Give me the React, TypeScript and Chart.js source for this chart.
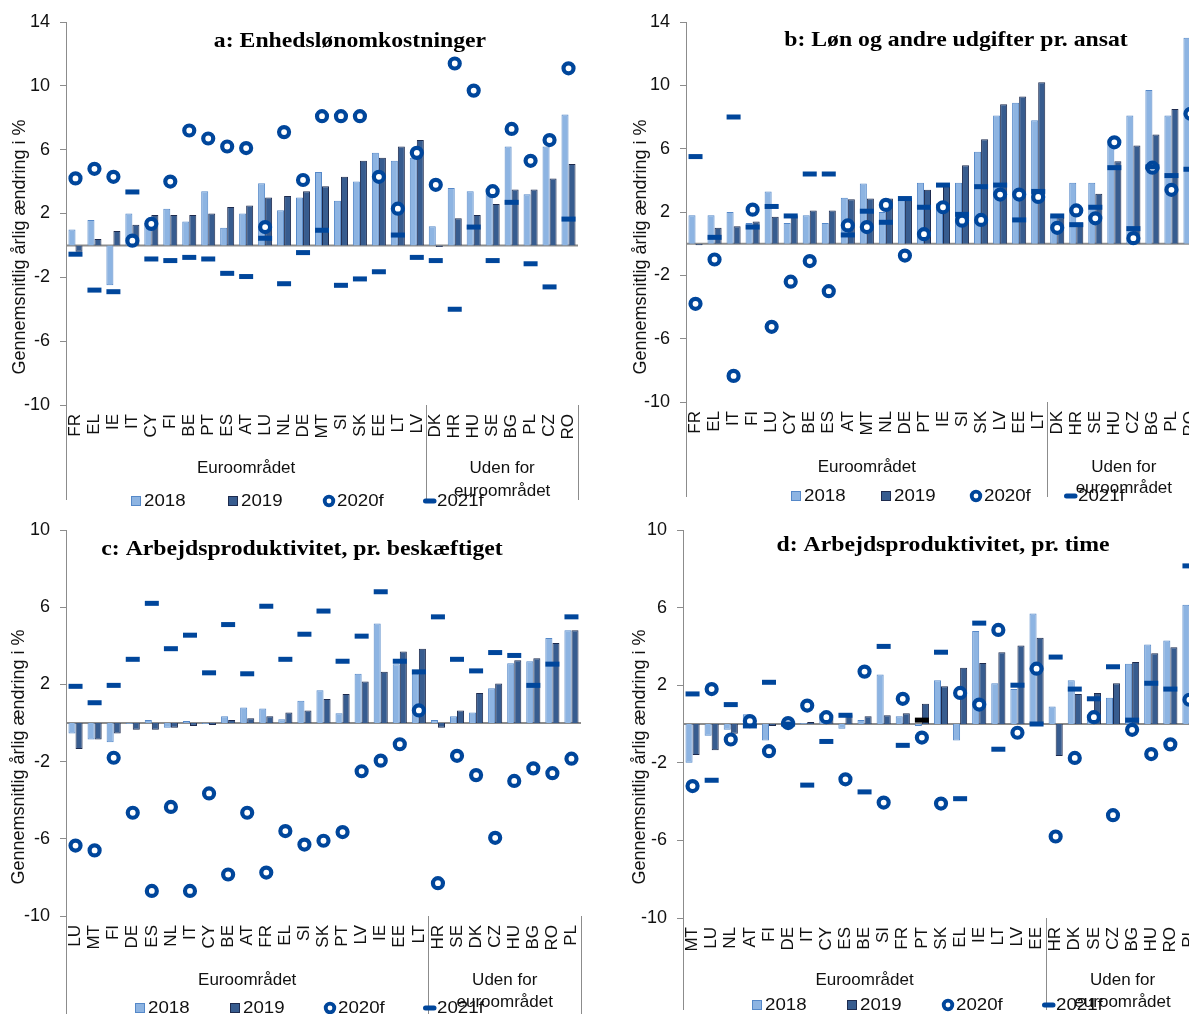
import React, { useEffect, useRef } from 'react';
import { Chart, registerables } from 'chart.js';

Chart.register(...registerables);
Chart.defaults.font.family = "'Liberation Sans', Arial, sans-serif";

// ---------- labels ----------
const seriesLabels = ['2018', '2019', '2020f', '2021f'];
const groupLabels = ['Euroområdet', 'Uden for', 'euroområdet'];
const yAxisTitle = 'Gennemsnitlig årlig ændring i %';
const panelTitles = [
  'a: Enhedslønomkostninger',
  'b: Løn og andre udgifter pr. ansat',
  'c: Arbejdsproduktivitet, pr. beskæftiget',
  'd: Arbejdsproduktivitet, pr. time',
];
const euroCount = 19;
const yTicksAB = { min: -10, max: 14, step: 4 };
const yTicksCD = { min: -10, max: 10, step: 4 };

// ---------- panel a: Enhedslønomkostninger ----------
const catsA = ['FR', 'EL', 'IE', 'IT', 'CY', 'FI', 'BE', 'PT', 'ES', 'AT', 'LU', 'NL', 'DE', 'MT', 'SI', 'SK', 'EE', 'LT', 'LV', 'DK', 'HR', 'HU', 'SE', 'BG', 'PL', 'CZ', 'RO'];
const a2018 = [1.0, 1.6, -2.5, 2.0, 1.4, 2.3, 1.5, 3.4, 1.1, 2.0, 3.9, 2.2, 3.0, 4.6, 2.8, 4.0, 5.8, 5.3, 5.5, 1.2, 3.6, 3.4, 3.5, 6.2, 3.2, 6.2, 8.2];
const a2019 = [-0.4, 0.4, 0.9, 1.3, 1.9, 1.9, 1.9, 2.0, 2.4, 2.5, 3.0, 3.1, 3.4, 3.7, 4.3, 5.3, 5.5, 6.2, 6.6, -0.1, 1.7, 1.9, 2.6, 3.5, 3.5, 4.2, 5.1];
const a2020 = [4.2, 4.8, 4.3, 0.3, 1.35, 4.0, 7.2, 6.7, 6.2, 6.1, 1.15, 7.1, 4.1, 8.1, 8.1, 8.1, 4.3, 2.3, 5.8, 3.8, 11.4, 9.7, 3.4, 7.3, 5.3, 6.6, 11.1];
const a2021 = [-0.55, -2.8, -2.9, 3.35, -0.85, -0.95, -0.75, -0.85, -1.75, -1.95, 0.45, -2.4, -0.45, 0.95, -2.5, -2.1, -1.65, 0.65, -0.75, -0.95, -4.0, 1.15, -0.95, 2.7, -1.15, -2.6, 1.65];

// ---------- panel b: Løn og andre udgifter pr. ansat ----------
const catsB = ['FR', 'EL', 'IT', 'FI', 'LU', 'CY', 'BE', 'ES', 'AT', 'MT', 'NL', 'DE', 'PT', 'IE', 'SI', 'SK', 'LV', 'EE', 'LT', 'DK', 'HR', 'SE', 'HU', 'CZ', 'BG', 'PL', 'RO'];
const b2018 = [1.8, 1.8, 2.0, 1.3, 3.3, 1.3, 1.8, 1.3, 2.9, 3.8, 2.0, 2.9, 3.85, 2.55, 3.85, 5.8, 8.1, 8.9, 7.8, 1.8, 3.85, 3.85, 6.5, 8.1, 9.7, 8.1, 13.0];
const b2019 = [-0.1, 1.0, 1.1, 1.4, 1.7, 1.8, 2.1, 2.1, 2.8, 2.85, 2.85, 2.9, 3.4, 3.6, 4.95, 6.6, 8.8, 9.3, 10.2, 1.65, 1.3, 3.15, 5.2, 6.2, 6.9, 8.5, 9.5];
const b2020 = [-3.8, -1.0, -8.35, 2.15, -5.25, -2.4, -1.1, -3.0, 1.15, 1.05, 2.45, -0.75, 0.6, 2.3, 1.45, 1.5, 3.1, 3.1, 2.95, 1.0, 2.1, 1.6, 6.4, 0.35, 4.8, 3.4, 8.2];
const b2021 = [5.5, 0.4, 8.0, 1.05, 2.35, 1.75, 4.4, 4.4, 0.55, 2.05, 1.35, 2.85, 2.3, 3.7, 1.85, 3.6, 3.7, 1.5, 3.3, 1.75, 1.2, 2.3, 4.8, 0.95, 4.85, 4.3, 4.7];

// ---------- panel c: Arbejdsproduktivitet, pr. beskæftiget ----------
const catsC = ['LU', 'MT', 'FI', 'DE', 'ES', 'NL', 'IT', 'CY', 'BE', 'AT', 'FR', 'EL', 'SI', 'SK', 'PT', 'LV', 'IE', 'EE', 'LT', 'HR', 'SE', 'DK', 'CZ', 'HU', 'BG', 'RO', 'PL'];
const c2018 = [-0.55, -0.85, -1.0, -0.05, 0.15, -0.25, 0.1, -0.05, 0.35, 0.8, 0.75, 0.2, 1.15, 1.7, 0.5, 2.55, 5.15, 3.05, 2.55, 0.15, 0.35, 0.55, 1.8, 3.1, 3.2, 4.4, 4.8];
const c2019 = [-1.35, -0.85, -0.55, -0.35, -0.35, -0.25, -0.15, -0.1, 0.15, 0.25, 0.35, 0.55, 0.65, 1.25, 1.5, 2.15, 2.65, 3.7, 3.85, -0.25, 0.65, 1.55, 2.05, 3.25, 3.35, 4.15, 4.8];
const c2020 = [-6.35, -6.6, -1.8, -4.65, -8.7, -4.35, -8.7, -3.65, -7.85, -4.65, -7.75, -5.6, -6.3, -6.1, -5.65, -2.5, -1.95, -1.1, 0.65, -8.3, -1.7, -2.7, -5.95, -3.0, -2.35, -2.6, -1.85];
const c2021 = [1.9, 1.05, 1.95, 3.3, 6.2, 3.85, 4.55, 2.6, 5.1, 2.55, 6.05, 3.3, 4.6, 5.8, 3.2, 4.5, 6.8, 3.2, 2.65, 5.5, 3.3, 2.7, 3.65, 3.5, 1.95, 3.05, 5.5];

// ---------- panel d: Arbejdsproduktivitet, pr. time ----------
const catsD = ['MT', 'LU', 'NL', 'AT', 'FI', 'DE', 'IT', 'CY', 'ES', 'BE', 'SI', 'FR', 'PT', 'SK', 'EL', 'IE', 'LT', 'LV', 'EE', 'HR', 'DK', 'SE', 'CZ', 'BG', 'HU', 'RO', 'PL'];
const d2018 = [-2.0, -0.6, -0.3, 0.5, -0.85, 0.0, 0.05, 0.55, -0.25, 0.2, 2.55, 0.4, -0.1, 2.25, -0.85, 4.8, 2.1, 1.8, 5.7, 0.9, 2.25, 0.35, 1.35, 3.1, 4.1, 4.3, 6.15];
const d2019 = [-1.6, -1.35, -0.5, -0.1, -0.1, 0.0, 0.1, 0.3, 0.5, 0.4, 0.45, 0.55, 1.05, 1.95, 2.9, 3.15, 3.7, 4.05, 4.45, -1.65, 1.55, 1.6, 2.1, 3.2, 3.65, 3.95, 5.1];
const d2020 = [-3.2, 1.8, -0.8, 0.15, -1.4, 0.05, 0.95, 0.35, -2.85, 2.7, -4.05, 1.3, -0.7, -4.1, 1.6, 1.0, 4.85, -0.45, 2.85, -5.8, -1.75, 0.35, -4.7, -0.3, -1.55, -1.05, 1.25];
const d2021 = [1.55, -2.9, 1.0, -0.1, 2.15, 0.0, -3.15, -0.9, 0.45, -3.5, 4.0, -1.1, 0.2, 3.7, -3.85, 5.2, -1.3, 2.0, 0.0, 3.45, 1.8, 1.3, 2.95, 0.2, 2.1, 1.8, 8.15];
const blackDashCategoryD = 'PT';

// ---------- styles ----------
const LIGHT = '#8DB4E2';
const LIGHT_B = '#5588C8';
const DARK = '#375C8F';
const DARK_B = '#1E2B4E';
const MARK = '#00469B';
const AXIS = '#8C8C8C';
const TEXT = '#111111';

type Layout = {
  left: number; top: number; w: number; h: number;
  area: { l: number; t: number; r: number; b: number };
  titleX: number; titleY: number;
  yTitleX: number; yTitleY: number;
  groupY: number; group2Y: number; lineEnd: number;
  legendY: number; legendX: number[];
};

const layouts: Layout[] = [
  { left: 0, top: 0, w: 595, h: 515, area: { l: 66, t: 22, r: 578, b: 405 }, titleX: 350, titleY: 42, yTitleX: 20, yTitleY: 247, groupY: 468, group2Y: 491, lineEnd: 500, legendY: 501, legendX: [131, 228, 323, 423] },
  { left: 595, top: 0, w: 620, h: 515, area: { l: 91, t: 22, r: 605, b: 402 }, titleX: 361, titleY: 41, yTitleX: 46, yTitleY: 247, groupY: 467, group2Y: 488, lineEnd: 497, legendY: 496, legendX: [196, 286, 375, 469] },
  { left: 0, top: 515, w: 595, h: 499, area: { l: 66, t: 15, r: 581, b: 401 }, titleX: 302, titleY: 35, yTitleX: 19, yTitleY: 242, groupY: 465, group2Y: 487, lineEnd: 499, legendY: 493, legendX: [135, 230, 324, 423] },
  { left: 595, top: 515, w: 620, h: 499, area: { l: 88, t: 15, r: 604, b: 403 }, titleX: 348, titleY: 31, yTitleX: 45, yTitleY: 242, groupY: 465, group2Y: 487, lineEnd: 495, legendY: 490, legendX: [157, 252, 347, 447] },
];

const panelData = [
  { cats: catsA, s: [a2018, a2019, a2020, a2021], y: yTicksAB, dash: catsA.map(() => MARK) },
  { cats: catsB, s: [b2018, b2019, b2020, b2021], y: yTicksAB, dash: catsB.map(() => MARK) },
  { cats: catsC, s: [c2018, c2019, c2020, c2021], y: yTicksCD, dash: catsC.map(() => MARK) },
  { cats: catsD, s: [d2018, d2019, d2020, d2021], y: yTicksCD, dash: catsD.map((c) => (c === blackDashCategoryD ? '#000000' : MARK)) },
];

const align = (x: number) => Math.round(x - 0.5) + 0.5;

function stretchedText(ctx: CanvasRenderingContext2D, text: string, x: number, y: number, sx: number, alignMode: CanvasTextAlign) {
  ctx.save();
  ctx.translate(x, y);
  ctx.scale(sx, 1);
  ctx.textAlign = alignMode;
  ctx.textBaseline = 'middle';
  ctx.fillText(text, 0, 0);
  ctx.restore();
}

function makeOverlay(idx: number) {
  const L = layouts[idx];
  return {
    id: 'overlay' + idx,
    beforeDatasetsDraw(chart: any) {
      const { ctx, chartArea, scales } = chart;
      const y0 = scales.y.getPixelForValue(0);
      ctx.save();
      ctx.strokeStyle = AXIS;
      ctx.lineWidth = 2;
      ctx.beginPath();
      ctx.moveTo(chartArea.left, y0);
      ctx.lineTo(chartArea.right, y0);
      ctx.stroke();
      ctx.restore();
    },
    afterDraw(chart: any) {
      const { ctx, chartArea, scales } = chart;
      const xs = scales.x;
      const n = panelData[idx].cats.length;
      const catW = (chartArea.right - chartArea.left) / n;
      const sepX = xs.getPixelForValue(euroCount - 1) + catW / 2;
      ctx.save();
      // vertical group lines
      ctx.strokeStyle = AXIS;
      ctx.lineWidth = 1;
      ctx.beginPath();
      [chartArea.left, sepX, chartArea.right].forEach((x: number) => {
        ctx.moveTo(align(x), chartArea.bottom);
        ctx.lineTo(align(x), L.lineEnd);
      });
      ctx.stroke();

      // group labels
      ctx.fillStyle = TEXT;
      ctx.font = "17px 'Liberation Sans'";
      stretchedText(ctx, groupLabels[0], (chartArea.left + sepX) / 2, L.groupY, 1, 'center');
      stretchedText(ctx, groupLabels[1], (sepX + chartArea.right) / 2, L.groupY, 1, 'center');
      stretchedText(ctx, groupLabels[2], (sepX + chartArea.right) / 2, L.group2Y, 1, 'center');

      // title
      ctx.fillStyle = '#000';
      ctx.font = "bold 21px 'Liberation Serif'";
      stretchedText(ctx, panelTitles[idx], L.titleX, L.titleY, 1.13, 'center');

      // y axis title
      ctx.save();
      ctx.translate(L.yTitleX, L.yTitleY);
      ctx.rotate(-Math.PI / 2);
      ctx.font = "18px 'Liberation Sans'";
      ctx.fillStyle = TEXT;
      ctx.textAlign = 'center';
      ctx.textBaseline = 'middle';
      ctx.fillText(yAxisTitle, 0, 0);
      ctx.restore();

      // legend
      const y = L.legendY;
      const [x0, x1, x2, x3] = L.legendX;
      ctx.fillStyle = LIGHT;
      ctx.fillRect(x0, y - 5, 10, 10);
      ctx.strokeStyle = LIGHT_B;
      ctx.strokeRect(x0 + 0.5, y - 4.5, 9, 9);
      ctx.fillStyle = DARK;
      ctx.fillRect(x1, y - 5, 10, 10);
      ctx.strokeStyle = DARK_B;
      ctx.strokeRect(x1 + 0.5, y - 4.5, 9, 9);
      ctx.beginPath();
      ctx.arc(x2 + 6, y, 4.3, 0, Math.PI * 2);
      ctx.fillStyle = '#fff';
      ctx.fill();
      ctx.strokeStyle = MARK;
      ctx.lineWidth = 3.8;
      ctx.stroke();
      ctx.beginPath();
      ctx.moveTo(x3 + 2.5, y);
      ctx.lineTo(x3 + 11, y);
      ctx.lineWidth = 5;
      ctx.lineCap = 'round';
      ctx.stroke();

      ctx.fillStyle = TEXT;
      ctx.font = "17px 'Liberation Sans'";
      stretchedText(ctx, seriesLabels[0], x0 + 13, y, 1.1, 'left');
      stretchedText(ctx, seriesLabels[1], x1 + 13, y, 1.1, 'left');
      stretchedText(ctx, seriesLabels[2], x2 + 14, y, 1.1, 'left');
      stretchedText(ctx, seriesLabels[3], x3 + 14, y, 1.1, 'left');
      ctx.restore();
    },
  };
}

function Panel({ idx }: { idx: number }) {
  const ref = useRef<HTMLCanvasElement>(null);
  const L = layouts[idx];
  useEffect(() => {
    const D = panelData[idx];
    const chart = new Chart(ref.current as HTMLCanvasElement, {
      type: 'bar',
      data: {
        labels: D.cats,
        datasets: [
          { type: 'bar', label: seriesLabels[0], data: D.s[0], backgroundColor: LIGHT, borderColor: LIGHT_B, borderWidth: 1, order: 2, categoryPercentage: 0.74, barPercentage: 1 } as any,
          { type: 'bar', label: seriesLabels[1], data: D.s[1], backgroundColor: DARK, borderColor: DARK_B, borderWidth: 1, order: 3, categoryPercentage: 0.74, barPercentage: 1 } as any,
          { type: 'line', label: seriesLabels[2], data: D.s[2], showLine: false, pointStyle: 'circle', pointRadius: 5, pointHoverRadius: 5, pointBorderWidth: 4.2, pointBackgroundColor: '#ffffff', pointBorderColor: MARK, order: 1 } as any,
          { type: 'line', label: seriesLabels[3], data: D.s[3], showLine: false, pointStyle: 'line', pointRadius: 7, pointHoverRadius: 7, pointBorderWidth: 5, pointBorderColor: D.dash, pointBackgroundColor: D.dash, order: 0 } as any,
        ],
      },
      options: {
        responsive: false,
        animation: false,
        layout: { padding: { left: 0, top: L.area.t, right: L.w - L.area.r, bottom: 0 } },
        plugins: { legend: { display: false }, tooltip: { enabled: false }, title: { display: false } },
        scales: {
          x: {
            type: 'category',
            offset: true,
            grid: { display: false, drawTicks: false },
            border: { display: false },
            ticks: { autoSkip: false, maxRotation: 90, minRotation: 90, padding: 9, color: TEXT, font: { size: 17 } },
            afterFit: (s: any) => {
              s.height = L.h - L.area.b;
              s.paddingLeft = 0;
              s.paddingRight = 0;
            },
          },
          y: {
            min: D.y.min,
            max: D.y.max,
            ticks: { stepSize: D.y.step, padding: 10, color: TEXT, font: { size: 18 } },
            grid: { drawOnChartArea: false, drawTicks: true, tickLength: 6, color: AXIS, lineWidth: 1 },
            border: { display: true, color: AXIS, width: 1 },
            afterFit: (s: any) => {
              s.width = L.area.l;
              s.paddingTop = 0;
              s.paddingBottom = 0;
            },
          },
        },
      } as any,
      plugins: [makeOverlay(idx)],
    });
    return () => chart.destroy();
  }, [idx]);
  return (
    <canvas
      ref={ref}
      width={L.w}
      height={L.h}
      style={{ position: 'absolute', left: L.left, top: L.top, width: L.w, height: L.h, display: 'block' }}
    />
  );
}

export default function App() {
  return (
    <div style={{ position: 'fixed', left: 0, top: 0, width: 1189, height: 1014, overflow: 'hidden', background: '#ffffff' }}>
      {layouts.map((_, i) => (
        <Panel key={i} idx={i} />
      ))}
    </div>
  );
}
